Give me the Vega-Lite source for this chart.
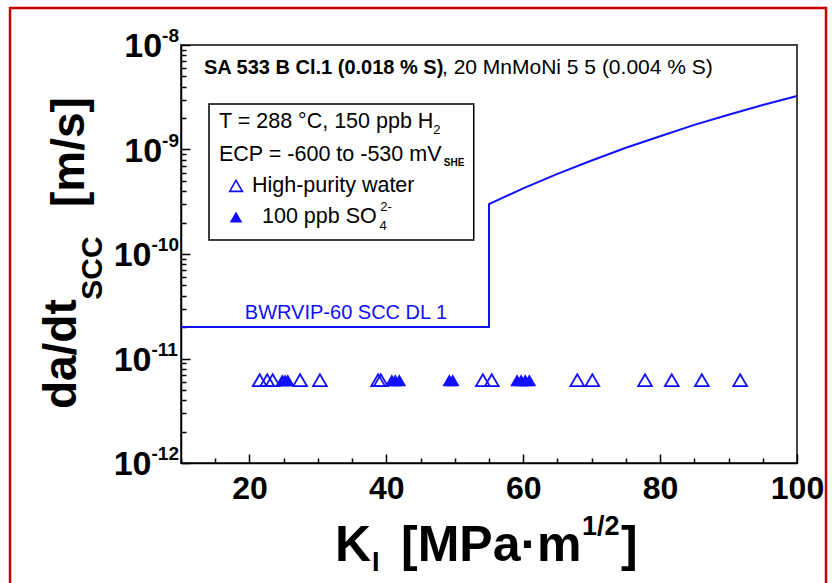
{
  "$schema": "https://vega.github.io/schema/vega-lite/v6.json",
  "width": 616,
  "height": 418,
  "autosize": {"type": "none"},
  "padding": {"left": 181, "top": 45, "right": 35, "bottom": 120},
  "background": "white",
  "config": {"view": {"stroke": "#444", "strokeWidth": 2}, "font": "Liberation Sans"},
  "datasets": {
    "curve": [
      {"K": 10, "v": 2e-11, "o": 1}, {"K": 55, "v": 2e-11, "o": 2}, {"K": 55, "v": 3.0e-10, "o": 3},
      {"K": 60, "v": 4.25e-10, "o": 4}, {"K": 65, "v": 5.85e-10, "o": 5}, {"K": 70, "v": 7.85e-10, "o": 6},
      {"K": 75, "v": 1.04e-9, "o": 7}, {"K": 80, "v": 1.34e-9, "o": 8}, {"K": 85, "v": 1.72e-9, "o": 9},
      {"K": 90, "v": 2.15e-9, "o": 10}, {"K": 95, "v": 2.67e-9, "o": 11}, {"K": 100, "v": 3.25e-9, "o": 12}
    ],
    "hpw": [
      {"K": 21.5, "v": 6.2e-12}, {"K": 22.6, "v": 6.2e-12}, {"K": 23.4, "v": 6.2e-12}, {"K": 27.4, "v": 6.2e-12},
      {"K": 30.3, "v": 6.2e-12}, {"K": 38.8, "v": 6.2e-12}, {"K": 39.2, "v": 6.2e-12}, {"K": 54.1, "v": 6.2e-12},
      {"K": 55.4, "v": 6.2e-12}, {"K": 67.9, "v": 6.2e-12}, {"K": 70.1, "v": 6.2e-12}, {"K": 77.8, "v": 6.2e-12},
      {"K": 81.7, "v": 6.2e-12}, {"K": 86.1, "v": 6.2e-12}, {"K": 91.7, "v": 6.2e-12}
    ],
    "so4": [
      {"K": 24.8, "v": 6.2e-12}, {"K": 25.2, "v": 6.2e-12}, {"K": 25.6, "v": 6.2e-12},
      {"K": 40.8, "v": 6.2e-12}, {"K": 41.3, "v": 6.2e-12}, {"K": 41.9, "v": 6.2e-12},
      {"K": 49.2, "v": 6.2e-12}, {"K": 49.7, "v": 6.2e-12},
      {"K": 59.1, "v": 6.2e-12}, {"K": 59.7, "v": 6.2e-12}, {"K": 60.3, "v": 6.2e-12}, {"K": 60.9, "v": 6.2e-12}
    ],
    "ylab": [
      {"K": 7.24, "v": 1e-8, "t": "10", "s": "-8"},
      {"K": 7.24, "v": 1e-9, "t": "10", "s": "-9"},
      {"K": 5.69, "v": 1e-10, "t": "10", "s": "-10"},
      {"K": 5.69, "v": 1e-11, "t": "10", "s": "-11"},
      {"K": 5.69, "v": 1e-12, "t": "10", "s": "-12"}
    ]
  },
  "encoding": {
    "x": {
      "field": "K", "type": "quantitative",
      "scale": {"domain": [10, 100], "nice": false, "zero": false},
      "axis": {
        "title": null,
        "values": [10, 15, 20, 25, 30, 35, 40, 45, 50, 55, 60, 65, 70, 75, 80, 85, 90, 95, 100],
        "labelExpr": "datum.value % 20 == 0 ? datum.label : ''",
        "grid": false,
        "domainColor": "black", "domainWidth": 1.5,
        "tickColor": "black", "tickWidth": 1.5,
        "tickSize": {"condition": {"test": "datum.value % 20 == 0", "value": -9}, "value": -5},
        "labelPadding": 19,
        "labelFontWeight": "bold", "labelFontSize": 32, "labelColor": "black",
        "labelFlush": false, "labelOverlap": false
      }
    },
    "y": {
      "field": "v", "type": "quantitative",
      "scale": {"type": "log", "domain": [1e-12, 1e-8], "nice": false},
      "axis": {
        "title": null,
        "values": [1e-12, 2e-12, 3e-12, 4e-12, 5e-12, 6e-12, 7e-12, 8e-12, 9e-12,
                   1e-11, 2e-11, 3e-11, 4e-11, 5e-11, 6e-11, 7e-11, 8e-11, 9e-11,
                   1e-10, 2e-10, 3e-10, 4e-10, 5e-10, 6e-10, 7e-10, 8e-10, 9e-10,
                   1e-9, 2e-9, 3e-9, 4e-9, 5e-9, 6e-9, 7e-9, 8e-9, 9e-9, 1e-8],
        "labels": false,
        "grid": false,
        "domainColor": "black", "domainWidth": 1.5,
        "tickColor": "black", "tickWidth": 1.5,
        "tickSize": {"condition": {"test": "abs(log(datum.value)/LN10 - round(log(datum.value)/LN10)) < 0.001", "value": -9}, "value": -5}
      }
    }
  },
  "layer": [
    {
      "data": {"values": [{"K": -14.98, "K2": 104.24, "v": 2.26e-8, "v2": 4.89e-14}]},
      "mark": {"type": "rect", "fillOpacity": 0, "stroke": "#c80000", "strokeWidth": 2.5},
      "encoding": {"x2": {"field": "K2"}, "y2": {"field": "v2"}}
    },
    {
      "data": {"values": [{"K": 14.09, "K2": 52.77, "v": 2.725e-9, "v2": 1.36e-10}]},
      "mark": {"type": "rect", "fill": "white", "stroke": "black", "strokeWidth": 1.5},
      "encoding": {"x2": {"field": "K2"}, "y2": {"field": "v2"}}
    },
    {
      "data": {"name": "curve"},
      "mark": {"type": "line", "color": "#1010ff", "strokeWidth": 2},
      "encoding": {"order": {"field": "o", "type": "quantitative"}}
    },
    {
      "data": {"name": "hpw"},
      "mark": {"type": "point", "shape": "triangle-up", "filled": false, "stroke": "#1010ff", "strokeWidth": 1.8, "size": 190, "opacity": 1}
    },
    {
      "data": {"name": "so4"},
      "mark": {"type": "point", "shape": "triangle-up", "filled": true, "fill": "#1010ff", "size": 190, "opacity": 1}
    },
    {
      "data": {"values": [{"K": 18.04, "v": 4.48e-10}]},
      "mark": {"type": "point", "shape": "triangle-up", "filled": false, "stroke": "#1010ff", "strokeWidth": 1.6, "size": 160, "opacity": 1}
    },
    {
      "data": {"values": [{"K": 18.04, "v": 2.26e-10}]},
      "mark": {"type": "point", "shape": "triangle-up", "filled": true, "fill": "#1010ff", "size": 160, "opacity": 1}
    },
    {
      "data": {"name": "ylab"},
      "mark": {"type": "text", "align": "right", "baseline": "middle", "dy": 2, "fontSize": 34, "fontWeight": "bold", "color": "black"},
      "encoding": {"text": {"field": "t"}}
    },
    {
      "data": {"name": "ylab"},
      "mark": {"type": "text", "align": "left", "baseline": "middle", "dy": -9, "fontSize": 19, "fontWeight": "bold", "color": "black"},
      "encoding": {"text": {"field": "s"}}
    },
    {
      "data": {"values": [{"K": 13.36, "v": 6.02e-9, "t": "SA 533 B Cl.1 (0.018 % S)"}]},
      "mark": {"type": "text", "align": "left", "baseline": "middle", "fontSize": 20, "fontWeight": "bold", "color": "black"},
      "encoding": {"text": {"field": "t"}}
    },
    {
      "data": {"values": [{"K": 48.13, "v": 6.02e-9, "t": ", 20 MnMoNi 5 5 (0.004 % S)"}]},
      "mark": {"type": "text", "align": "left", "baseline": "middle", "fontSize": 21, "color": "black"},
      "encoding": {"text": {"field": "t"}}
    },
    {
      "data": {"values": [
        {"K": 15.55, "v": 1.833e-9, "t": "T = 288 °C, 150 ppb H"},
        {"K": 15.55, "v": 8.86e-10, "t": "ECP = -600 to -530 mV"},
        {"K": 20.37, "v": 4.48e-10, "t": "High-purity water"},
        {"K": 21.83, "v": 2.26e-10, "t": "100 ppb SO"}
      ]},
      "mark": {"type": "text", "align": "left", "baseline": "middle", "fontSize": 21.5, "color": "black"},
      "encoding": {"text": {"field": "t"}}
    },
    {
      "data": {"values": [
        {"K": 46.85, "v": 1.55e-9, "t": "2"},
        {"K": 39.0, "v": 1.87e-10, "t": "4"},
        {"K": 39.1, "v": 2.8e-10, "t": "2-"}
      ]},
      "mark": {"type": "text", "align": "left", "baseline": "middle", "fontSize": 13, "color": "black"},
      "encoding": {"text": {"field": "t"}}
    },
    {
      "data": {"values": [{"K": 48.4, "v": 7.43e-10, "t": "SHE"}]},
      "mark": {"type": "text", "align": "left", "baseline": "middle", "fontSize": 10, "fontWeight": "bold", "color": "black"},
      "encoding": {"text": {"field": "t"}}
    },
    {
      "data": {"values": [{"K": 34.1, "v": 2.725e-11, "t": "BWRVIP-60 SCC DL 1"}]},
      "mark": {"type": "text", "align": "center", "baseline": "middle", "fontSize": 20, "color": "#1010ff"},
      "encoding": {"text": {"field": "t"}}
    },
    {
      "data": {"values": [
        {"K": -7.39, "v": 1.1e-11, "t": "da/dt"},
        {"K": -6.22, "v": 9.46e-10, "t": "[m/s]"}
      ]},
      "mark": {"type": "text", "align": "center", "baseline": "middle", "angle": 270, "fontSize": 46, "fontWeight": "bold", "color": "black"},
      "encoding": {"text": {"field": "t"}}
    },
    {
      "data": {"values": [{"K": -2.86, "v": 7.34e-11, "t": "SCC"}]},
      "mark": {"type": "text", "align": "center", "baseline": "middle", "angle": 270, "fontSize": 30, "fontWeight": "bold", "color": "black"},
      "encoding": {"text": {"field": "t"}}
    },
    {
      "data": {"values": [
        {"K": 32.5, "v": 1.607e-13, "t": "K"},
        {"K": 42.14, "v": 1.607e-13, "t": "[MPa·m"},
        {"K": 74.29, "v": 1.607e-13, "t": "]"}
      ]},
      "mark": {"type": "text", "align": "left", "baseline": "middle", "fontSize": 50, "fontWeight": "bold", "color": "black"},
      "encoding": {"text": {"field": "t"}}
    },
    {
      "data": {"values": [
        {"K": 37.9, "v": 1.1e-13, "t": "I"},
        {"K": 68.59, "v": 2.45e-13, "t": "1/2"}
      ]},
      "mark": {"type": "text", "align": "left", "baseline": "middle", "fontSize": 27, "fontWeight": "bold", "color": "black"},
      "encoding": {"text": {"field": "t"}}
    }
  ]
}
